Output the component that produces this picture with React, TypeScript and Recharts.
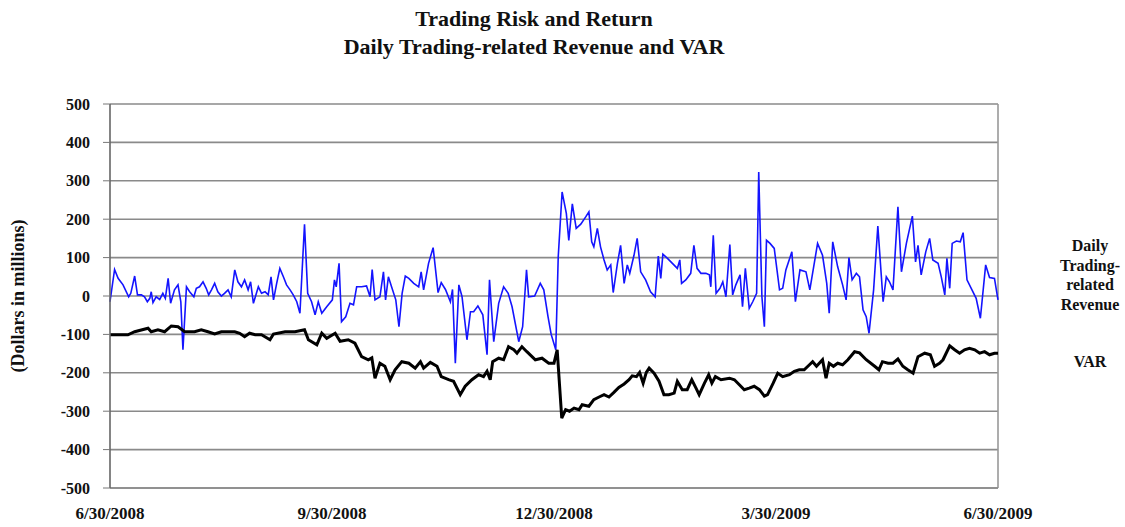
import { LineChart, Line, XAxis, YAxis, CartesianGrid, ReferenceLine } from 'recharts';

// x = trading day since 6/30/2008 (0..252), values in $ millions
const revenueDays = [
  0, 1.3, 2.3, 3.7, 5.3, 5.9, 7.0, 7.8, 8.9, 9.8, 10.6, 11.3, 11.7, 12.2, 13.1, 14.1, 15.0, 15.7, 16.5, 17.2,
  18.3, 19.3, 20.1, 20.7, 21.7, 22.6, 23.8, 24.5, 25.4, 26.4, 27.3, 28.0, 28.8, 29.7, 30.6, 31.6, 32.5, 33.5, 34.4, 35.4,
  36.3, 37.3, 38.2, 39.2, 39.9, 40.7,
  42.1, 43.0, 44.0, 44.9, 45.7, 46.4, 47.3, 48.2, 49.2, 50.1, 51.1, 52.0, 53.0, 53.9, 55.2, 56.1, 57.2, 58.2, 59.1, 60.1,
  61.5, 63.1, 63.7, 64.2, 65.0, 65.7, 66.9, 68.1, 69.1, 70.0, 71.4, 72.8, 73.8, 74.4, 75.2, 76.6, 77.6, 78.2, 79.0, 79.9,
  81.1, 82.0,
  82.9, 83.8, 84.8, 86.2, 87.6, 88.3, 89.0, 90.4, 91.7, 93.1, 94.0, 95.2, 96.6, 97.2, 98.0, 99.0, 99.9, 101.3, 102.3, 103.2,
  104.4, 105.8, 107.0, 107.7, 108.9, 110.3, 111.7, 113.0, 114.1, 116.0, 117.1, 118.2, 118.8, 120.5, 122.1, 123.1, 124.3,
  125.2, 126.5, 127.2, 128.3, 129.5, 130.2, 131.2, 132.3, 133.6, 135.0, 135.9, 136.7, 137.3, 138.3, 139.2, 140.2, 141.1, 142.1, 142.8, 144.0,
  144.9, 145.9, 146.8, 147.5, 148.7, 149.6, 150.6, 152.0, 153.4, 154.7, 155.6, 156.3, 156.9, 158.2, 159.6, 161.0, 161.7, 162.2, 163.4, 164.8,
  165.7,
  166.6, 167.7, 169.1, 170.1, 170.5, 171.2, 172.0, 173.1, 173.9, 174.8, 175.9, 176.7, 177.6, 178.8, 179.5, 180.3, 181.4, 182.4, 183.5, 184.1,
  185.0, 185.7, 186.3, 187.3, 188.5, 190.0, 190.9, 191.8, 193.5, 194.5, 195.8, 197.5, 198.6, 200.8, 202.2, 203.4, 204.1, 205.1, 206.5, 207.9,
  208.9, 209.7, 210.6, 211.8, 212.7, 213.7, 214.6, 215.4, 216.7, 217.9, 219.4, 220.3, 221.2, 222.2, 223.6, 224.6, 226.0, 227.7, 228.6, 229.3,
  230.2, 231.5, 232.6, 233.5, 235.0, 235.9, 236.9, 237.5, 238.3, 239.0, 240.2, 241.3, 242.1, 243.2, 244.4, 245.8, 247.0, 248.5, 249.6, 251.0,
  252.0,
];
const revenueValues = [
  -15, 69, 46, 29, -2, 7, 52, 3, 3, -2, -15, -6, 11, -17, -2, -9, 7, -6, 46, -19,
  16, 29, -15, -140, 24, 11, -2, 20, 24, 37, 20, 3, 16, 33, 11, 0, 7, 16, -2, 68,
  37, 24, 42, 16, 37, -19,
  24, 7, 11, 3, 50, -10, 33, 72, 50, 29, 16, 3, -15, -45, 187, 7, -15, -49, -15, -45,
  -28, -10, 42, 24, 85, -67, -54, -19, -23, 24, 24, 26, -2, 69, -10, -2, 63, -10, 50, 24,
  -10, -80,
  7, 52, 46, 33, 24, 63, 16, 85, 126, 9, 35, 17, -15, 17, -175, 29, -2, -114, -41, -41,
  -26, -49, -153, 42, -119, -19, 24, 7, -28, -119, -80, 68, -2, 0, 33, 16, -54,
  -100, -140, 102, 271, 215, 145, 240, 176, 187, 206, 219, 141, 128, 176, 128, 94, 68, 81, 9, 85,
  132, 33, 81, 59, 106, 150, 63, 42, 11, -2, 104, 46, 109, 98, 85, 72, 94, 33, 42, 59,
  132,
  72, 59, 59, 55, 24, 158, 7, 20, 37, -2, 134, 3, 29, 55, -28, 72, -32, -15, 7, 323,
  -2, -80, 145, 137, 124, 16, 20, 68, 115, -15, 68, 63, 16, 137, 106, 33, -45, 141, 76, 29,
  -10, 100, 42, 59, 50, -36, -54, -97, 16, 182, -15, 50, 37, 16, 232, 63, 137, 208, 89, 132,
  55, 115, 150, 94, 85, 50, 3, 98, 20, 137, 143, 141, 165, 42, 20, -6, -58, 81, 48, 46,
  -10,
];

const varDays = [
  0, 5.1, 7.0, 10.8, 11.7, 13.6, 15.5, 17.4, 19.3, 21.2, 24.0, 25.9, 27.8, 29.7, 31.6, 33.5, 35.4, 36.8, 38.2, 39.6,
  41.2, 43.0, 45.4, 46.4, 49.7, 52.5, 55.2, 56.3, 58.7, 60.1, 61.5, 63.9, 65.3, 67.6, 69.5, 71.4, 73.3, 74.3, 75.2, 76.6,
  78.0, 79.5, 80.9, 82.8,
  84.8, 86.6, 88.1, 89.0, 90.9, 92.8, 94.0, 96.1, 97.5, 99.4, 100.8, 102.7, 104.6, 106.0, 107.0, 107.9, 108.6, 110.3, 111.7, 113.1,
  114.6, 115.5, 116.9, 118.3, 120.7, 122.6, 124.5,
  126.0, 126.9, 128.2, 129.3, 130.4, 131.7, 133.1, 134.0, 135.9, 137.3, 138.8, 140.2, 141.6, 143.0, 144.4, 145.9, 147.3, 148.2, 149.4, 150.3,
  151.3, 152.2, 153.0, 154.4, 155.8, 157.2, 158.6, 160.1, 161.0, 162.4, 163.8, 165.1,
  166.3, 167.2, 168.7, 169.9, 170.8, 171.8, 173.4, 175.8, 177.2, 178.6, 180.0, 181.4, 182.8, 184.3, 185.7, 186.6, 188.2, 189.5, 190.9, 192.8,
  194.2, 195.6, 197.0, 198.5, 199.4, 200.5, 202.2, 203.2, 204.1, 205.3, 206.5, 207.9,
  209.4, 211.3, 212.7, 214.6, 217.0, 218.2, 219.2, 220.8, 222.2, 223.6, 225.0, 226.4, 227.9, 229.3, 231.2, 232.8, 234.0, 235.4, 236.4, 238.3,
  239.7, 241.1, 242.5, 243.9, 245.4, 246.8, 248.2, 249.6, 251.0, 252.0,
];
const varValues = [
  -101, -101, -93, -84, -93, -88, -93, -78, -80, -93, -93, -88, -93, -99, -93, -93, -93, -97, -106, -97,
  -101, -101, -114, -99, -93, -93, -88, -114, -127, -97, -110, -97, -118, -114, -123, -158, -166, -161, -214, -175,
  -183, -218, -192, -171,
  -175, -188, -171, -188, -173, -183, -210, -218, -222, -257, -235, -218, -205, -210, -196, -218, -171, -162, -166, -132,
  -140, -149, -132, -145, -166, -162, -175,
  -175, -140, -318, -296, -300, -292, -296, -283, -287, -270, -263, -257, -263, -251, -238, -229, -218, -208, -210, -199,
  -227, -199, -188, -201, -222, -257, -257, -253, -222, -244, -244, -218,
  -240, -257, -227, -205, -227, -210, -218, -214, -218, -231, -244, -240, -235, -244, -261, -257, -227, -201, -210, -205,
  -196, -192, -192, -179, -171, -183, -166, -214, -175, -183, -175, -179,
  -166, -145, -148, -166, -183, -192, -171, -175, -175, -164, -183, -192, -201, -158, -149, -153, -183, -175, -166, -130,
  -140, -149, -140, -136, -140, -149, -145, -153, -149, -149,
];

const dateTicks = [0, 63, 126, 189, 252];
const dateLabels = ['6/30/2008', '9/30/2008', '12/30/2008', '3/30/2009', '6/30/2009'];
const yTicks = [-500, -400, -300, -200, -100, 0, 100, 200, 300, 400, 500];

interface Row {
  day: number;
  revenue?: number;
  var?: number;
}

const rowMap = new Map<number, Row>();
revenueDays.forEach((d, i) => {
  const r = rowMap.get(d) || { day: d };
  r.revenue = revenueValues[i];
  rowMap.set(d, r);
});
varDays.forEach((d, i) => {
  const r = rowMap.get(d) || { day: d };
  r.var = varValues[i];
  rowMap.set(d, r);
});
const data = Array.from(rowMap.values()).sort((a, b) => a.day - b.day);

const serif = "'Liberation Serif', 'Times New Roman', serif";
const yTickStyle = { fontFamily: serif, fontWeight: 700, fontSize: 16, fill: '#111' };
const xTickStyle = { fontFamily: serif, fontWeight: 700, fontSize: 17, fill: '#111' };

export default function App() {
  return (
    <div style={{ position: 'absolute', left: 0, top: 0, width: 1125, height: 527, background: '#fff', fontFamily: serif, color: '#111' }}>
      <div style={{ position: 'absolute', left: 0, top: 5, width: 1068, textAlign: 'center', fontWeight: 700, fontSize: 22, lineHeight: '28px' }}>
        <div>Trading Risk and Return</div>
        <div>Daily Trading-related Revenue and VAR</div>
      </div>

      <LineChart width={1125} height={527} data={data} margin={{ top: 104, right: 127, bottom: 0, left: 0 }}>
        <CartesianGrid vertical={false} stroke="#8a8a8a" strokeWidth={1.6} />
        <XAxis
          dataKey="day"
          type="number"
          domain={[0, 252]}
          ticks={dateTicks}
          tickFormatter={(v) => dateLabels[dateTicks.indexOf(v)] ?? ''}
          tick={xTickStyle}
          tickLine={false}
          tickSize={0}
          tickMargin={19}
          height={39}
          axisLine={{ stroke: '#8a8a8a', strokeWidth: 1.6 }}
          interval={0}
        />
        <YAxis
          domain={[-500, 500]}
          ticks={yTicks}
          width={110}
          tick={yTickStyle}
          tickSize={7}
          tickMargin={13}
          tickLine={{ stroke: '#777' }}
          axisLine={{ stroke: '#666', strokeWidth: 1.6 }}
          interval={0}
        />
        <ReferenceLine x={252} stroke="#999" strokeWidth={1.6} />
        <Line
          type="linear"
          dataKey="revenue"
          stroke="#1414ff"
          strokeWidth={1.6}
          dot={false}
          connectNulls
          isAnimationActive={false}
        />
        <Line
          type="linear"
          dataKey="var"
          stroke="#000"
          strokeWidth={3}
          dot={false}
          connectNulls
          isAnimationActive={false}
        />
      </LineChart>

      <div
        style={{
          position: 'absolute',
          left: 18,
          top: 296,
          transform: 'translate(-50%, -50%) rotate(-90deg)',
          whiteSpace: 'nowrap',
          fontWeight: 700,
          fontSize: 18,
        }}
      >
        (Dollars in millions)
      </div>

      <div style={{ position: 'absolute', left: 1043, top: 236, width: 94, textAlign: 'center', fontWeight: 700, fontSize: 16, lineHeight: '19.5px' }}>
        <div>Daily</div>
        <div>Trading-</div>
        <div>related</div>
        <div>Revenue</div>
      </div>
      <div style={{ position: 'absolute', left: 1043, top: 353, width: 94, textAlign: 'center', fontWeight: 700, fontSize: 16 }}>
        VAR
      </div>
    </div>
  );
}
